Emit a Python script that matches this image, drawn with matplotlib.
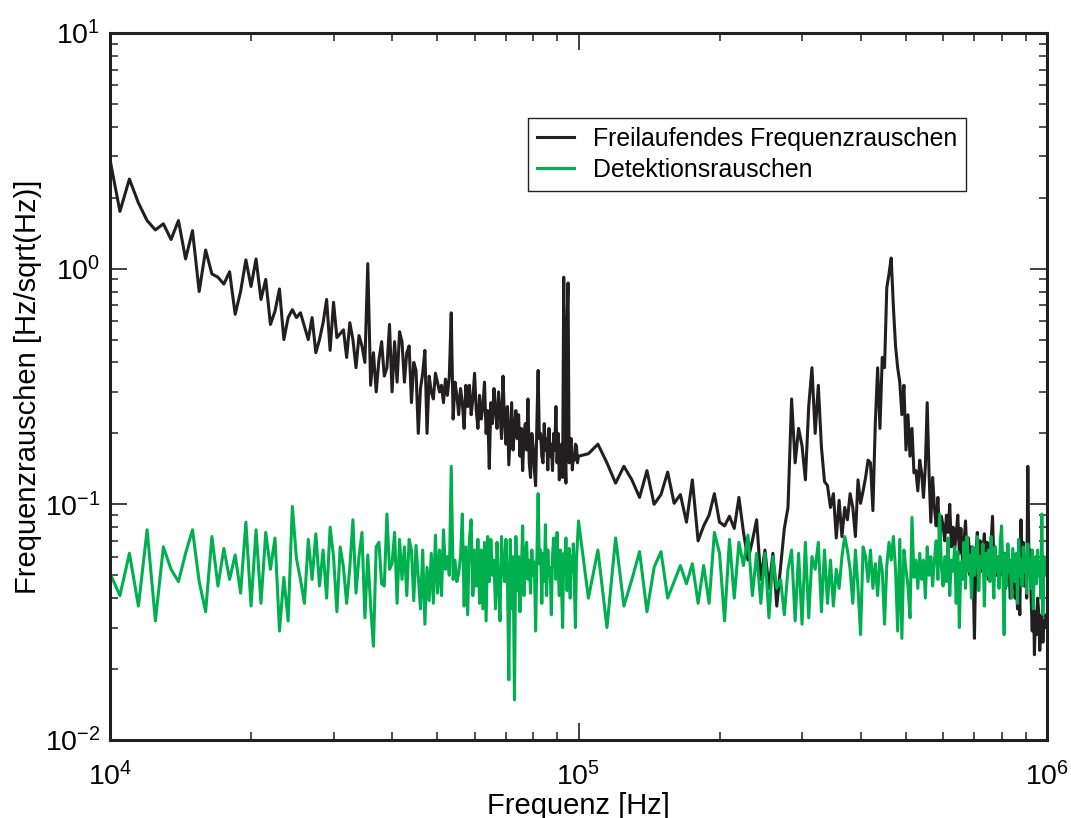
import numpy as np
import matplotlib
matplotlib.use("Agg")
import matplotlib.pyplot as plt

# ---------------- data ----------------
# frequency grids of the two measurement spans (Hz)
f_lo_start, f_lo_stop, f_lo_step = 10000, 100000, 500
f_hi_start, f_hi_stop, f_hi_step = 105000, 1000000, 5000

# free-running frequency noise (Hz/sqrt(Hz))
black_lo = [
    2.9, 1.75, 2.4, 1.9, 1.6, 1.46, 1.55, 1.33, 1.6, 1.1,
    1.45, 0.8, 1.2, 0.95, 0.92, 0.86, 0.97, 0.64, 0.8, 1.09,
    0.84, 1.1, 0.74, 0.9, 0.58, 0.66, 0.82, 0.5, 0.62, 0.67,
    0.62, 0.65, 0.57, 0.5, 0.62, 0.44, 0.5, 0.59, 0.74, 0.45,
    0.72, 0.51, 0.53, 0.55, 0.42, 0.59, 0.5, 0.38, 0.52, 0.47,
    0.4, 1.05, 0.32, 0.44, 0.3, 0.41, 0.49, 0.35, 0.38, 0.58,
    0.3, 0.49, 0.33, 0.54, 0.49, 0.33, 0.44, 0.47, 0.27, 0.4,
    0.37, 0.2, 0.31, 0.36, 0.45, 0.2, 0.35, 0.3, 0.28, 0.36,
    0.33, 0.3, 0.32, 0.27, 0.34, 0.29, 0.35, 0.65, 0.23, 0.33,
    0.29, 0.24, 0.31, 0.27, 0.21, 0.32, 0.26, 0.32, 0.24, 0.28,
    0.36, 0.25, 0.21, 0.29, 0.23, 0.26, 0.33, 0.2, 0.25, 0.142,
    0.27, 0.22, 0.31, 0.25, 0.21, 0.3, 0.245, 0.19, 0.35, 0.23,
    0.18, 0.26, 0.147, 0.2, 0.27, 0.17, 0.21, 0.25, 0.19, 0.24,
    0.16, 0.21, 0.139, 0.2, 0.22, 0.17, 0.28, 0.15, 0.13, 0.2,
    0.177, 0.14, 0.12, 0.22, 0.37, 0.19, 0.2, 0.16, 0.15, 0.22,
    0.17, 0.19, 0.14, 0.21, 0.16, 0.18, 0.139, 0.2, 0.17, 0.26,
    0.15, 0.2, 0.127, 0.16, 0.18, 0.13, 0.92, 0.17, 0.123, 0.6,
    0.87, 0.15, 0.17, 0.19, 0.14, 0.16, 0.154, 0.18, 0.177, 0.15,
    0.16,
]
black_hi = [
    0.164, 0.18, 0.15, 0.123, 0.145, 0.127, 0.107, 0.139, 0.1, 0.11,
    0.137, 0.101, 0.11, 0.084, 0.127, 0.07, 0.081, 0.09, 0.111, 0.084,
    0.081, 0.089, 0.079, 0.107, 0.076, 0.058, 0.07, 0.086, 0.048, 0.064,
    0.044, 0.062, 0.037, 0.054, 0.079, 0.097, 0.28, 0.15, 0.21, 0.177,
    0.127, 0.26, 0.38, 0.2, 0.32, 0.175, 0.125, 0.12, 0.097, 0.111,
    0.072, 0.104, 0.073, 0.097, 0.086, 0.111, 0.097, 0.073, 0.127, 0.101,
    0.114, 0.13, 0.154, 0.15, 0.094, 0.22, 0.38, 0.21, 0.42, 0.38,
    0.83, 0.95, 1.11, 0.69, 0.47, 0.38, 0.33, 0.24, 0.32, 0.17,
    0.24, 0.16, 0.21, 0.136, 0.139, 0.114, 0.154, 0.136, 0.107, 0.145,
    0.27, 0.136, 0.084, 0.13, 0.097, 0.081, 0.107, 0.071, 0.089, 0.081,
    0.07, 0.09, 0.076, 0.1, 0.066, 0.08, 0.064, 0.075, 0.09, 0.062,
    0.079, 0.058, 0.069, 0.085, 0.06, 0.072, 0.05, 0.066, 0.055, 0.027,
    0.06, 0.076, 0.058, 0.07, 0.052, 0.064, 0.075, 0.056, 0.069, 0.048,
    0.062, 0.07, 0.089, 0.058, 0.066, 0.05, 0.06, 0.045, 0.058, 0.066,
    0.05, 0.062, 0.044, 0.055, 0.048, 0.052, 0.04, 0.05, 0.044, 0.058,
    0.04, 0.05, 0.036, 0.046, 0.034, 0.086, 0.05, 0.069, 0.045, 0.058,
    0.04, 0.145, 0.06, 0.064, 0.04, 0.029, 0.045, 0.023, 0.035, 0.028,
    0.04, 0.035, 0.024, 0.03, 0.034, 0.026, 0.032, 0.03, 0.034, 0.032,
]

# detection noise (Hz/sqrt(Hz))
green_lo = [
    0.051, 0.041, 0.062, 0.037, 0.078, 0.032, 0.066, 0.053, 0.047, 0.062,
    0.078, 0.047, 0.035, 0.073, 0.045, 0.065, 0.048, 0.061, 0.042, 0.084,
    0.037, 0.078, 0.038, 0.076, 0.053, 0.072, 0.029, 0.049, 0.032, 0.098,
    0.059, 0.048, 0.038, 0.071, 0.048, 0.075, 0.045, 0.064, 0.04, 0.08,
    0.06, 0.035, 0.066, 0.054, 0.038, 0.054, 0.086, 0.042, 0.06, 0.076,
    0.033, 0.061, 0.037, 0.025, 0.066, 0.069, 0.046, 0.045, 0.091, 0.053,
    0.056, 0.076, 0.038, 0.071, 0.048, 0.066, 0.041, 0.071, 0.064, 0.039,
    0.067, 0.049, 0.036, 0.064, 0.031, 0.054, 0.039, 0.062, 0.038, 0.074,
    0.042, 0.064, 0.041, 0.078, 0.053, 0.06, 0.05, 0.145, 0.048, 0.058,
    0.047, 0.051, 0.06, 0.091, 0.037, 0.066, 0.034, 0.071, 0.086, 0.041,
    0.064, 0.045, 0.071, 0.038, 0.064, 0.036, 0.069, 0.032, 0.073, 0.047,
    0.071, 0.05, 0.058, 0.036, 0.069, 0.045, 0.032, 0.073, 0.055, 0.047,
    0.071, 0.05, 0.018, 0.071, 0.036, 0.06, 0.0148, 0.073, 0.043, 0.06,
    0.035, 0.052, 0.081, 0.041, 0.06, 0.069, 0.048, 0.058, 0.042, 0.064,
    0.05, 0.057, 0.029, 0.06, 0.111, 0.056, 0.064, 0.038, 0.062, 0.047,
    0.082, 0.041, 0.064, 0.05, 0.054, 0.034, 0.06, 0.072, 0.062, 0.048,
    0.076, 0.053, 0.041, 0.064, 0.045, 0.03, 0.062, 0.05, 0.072, 0.043,
    0.058, 0.065, 0.04, 0.06, 0.052, 0.068, 0.046, 0.03, 0.058, 0.07,
    0.085,
]
green_hi = [
    0.04, 0.064, 0.03, 0.072, 0.037, 0.048, 0.063, 0.035, 0.054, 0.063,
    0.04, 0.047, 0.055, 0.046, 0.056, 0.038, 0.055, 0.038, 0.076, 0.062,
    0.032, 0.071, 0.04, 0.069, 0.055, 0.074, 0.041, 0.062, 0.038, 0.062,
    0.033, 0.06, 0.044, 0.048, 0.034, 0.053, 0.064, 0.032, 0.062, 0.031,
    0.069, 0.033, 0.06, 0.053, 0.069, 0.035, 0.064, 0.038, 0.058, 0.037,
    0.053, 0.044, 0.06, 0.073, 0.064, 0.053, 0.038, 0.064, 0.044, 0.028,
    0.066, 0.06, 0.047, 0.064, 0.044, 0.056, 0.041, 0.06, 0.052, 0.031,
    0.055, 0.069, 0.058, 0.073, 0.053, 0.029, 0.071, 0.027, 0.064, 0.053,
    0.045, 0.033, 0.088, 0.049, 0.058, 0.044, 0.062, 0.048, 0.058, 0.04,
    0.066, 0.05, 0.06, 0.045, 0.058, 0.07, 0.048, 0.091, 0.055, 0.045,
    0.06, 0.047, 0.072, 0.041, 0.058, 0.052, 0.066, 0.038, 0.063, 0.03,
    0.057, 0.048, 0.069, 0.044, 0.073, 0.052, 0.061, 0.04, 0.066, 0.05,
    0.058, 0.073, 0.043, 0.06, 0.054, 0.068, 0.037, 0.062, 0.05, 0.064,
    0.047, 0.073, 0.055, 0.04, 0.066, 0.052, 0.06, 0.044, 0.07, 0.081,
    0.05, 0.028, 0.062, 0.045, 0.068, 0.052, 0.058, 0.04, 0.065, 0.055,
    0.047, 0.062, 0.038, 0.071, 0.05, 0.058, 0.045, 0.066, 0.052, 0.06,
    0.042, 0.068, 0.05, 0.058, 0.044, 0.064, 0.036, 0.055, 0.06, 0.046,
    0.064, 0.05, 0.057, 0.04, 0.091, 0.034, 0.06, 0.05, 0.055, 0.058,
]

series_labels = ["Freilaufendes Frequenzrauschen", "Detektionsrauschen"]
x_label = "Frequenz [Hz]"
y_label = "Frequenzrauschen [Hz/sqrt(Hz)]"

# ---------------- build ----------------
f_lo = np.arange(f_lo_start, f_lo_stop + 1, f_lo_step)
f_hi = np.arange(f_hi_start, f_hi_stop + 1, f_hi_step)
freq = np.concatenate([f_lo, f_hi])
black = np.concatenate([black_lo, black_hi])
green = np.concatenate([green_lo, green_hi])

plt.rcParams["font.family"] = ["Liberation Sans", "DejaVu Sans"]
plt.rcParams["axes.unicode_minus"] = False

W, H = 1071, 818
fig = plt.figure(figsize=(W / 100, H / 100), dpi=100)
ax = fig.add_axes([110 / W, 1 - 740 / H, 937 / W, 707 / H])

c_black = "#231f20"
c_green = "#00b04f"
ax.plot(freq, black, color=c_black, lw=2.2, label=series_labels[0])
ax.plot(freq, green, color=c_green, lw=2.2, label=series_labels[1])

ax.set_xscale("log")
ax.set_yscale("log")
ax.set_xlim(1e4, 1e6)
ax.set_ylim(1e-2, 1e1)

for s in ax.spines.values():
    s.set_linewidth(2.2)
    s.set_color(c_black)

ax.tick_params(which="both", direction="in", top=True, right=True, color=c_black)
ax.tick_params(which="major", length=12, width=1.2, labelsize=20.5, pad=7)
ax.tick_params(which="minor", length=6, width=1.1)
ax.tick_params(axis="x", which="major", pad=16)

ax.set_xlabel(x_label, fontsize=21, labelpad=0.5)
ax.set_ylabel(y_label, fontsize=21, labelpad=1.5)

leg = ax.legend(loc="upper left",
                bbox_to_anchor=((528 - 110) / 937, 1 - (118 - 33) / 707),
                borderaxespad=0, fontsize=17.9, frameon=True, fancybox=False,
                framealpha=1, edgecolor=c_black, handlelength=1.5,
                handletextpad=0.75, labelspacing=0.27, borderpad=0.36)
leg.get_frame().set_linewidth(1.0)

fig.savefig("out.png", dpi=100)
